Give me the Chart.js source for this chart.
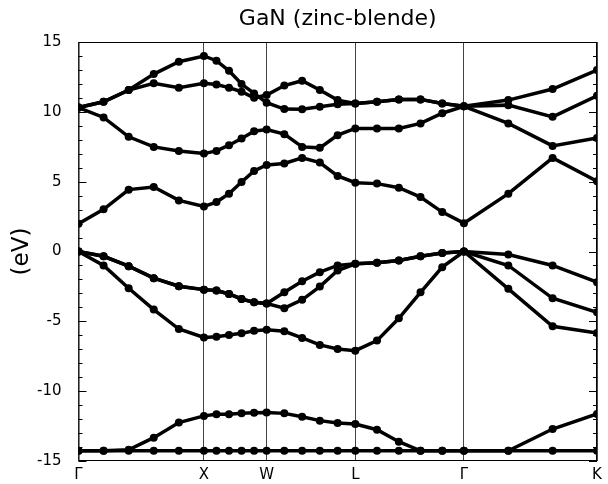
<!DOCTYPE html>
<html>
<head>
<meta charset="utf-8">
<script src="https://cdn.jsdelivr.net/npm/chart.js@4/dist/chart.umd.min.js"></script>
<style>
  html, body { margin: 0; padding: 0; background: #fff; }
  canvas { display: block; }
</style>
</head>
<body>
<canvas id="bands" width="608" height="484"></canvas>
<script>
// k-path positions (2pi/a units) and the symmetry points
const kPos = [0, 0.2, 0.4, 0.6, 0.8, 1.0, 1.1, 1.2, 1.3, 1.4, 1.5, 1.641, 1.783, 1.924, 2.066, 2.207, 2.380, 2.554, 2.727, 2.900, 3.073, 3.427, 3.780, 4.134];
const symPos = [0, 1.0, 1.5, 2.207, 3.073, 4.134];
const symLabels = ['Γ', 'X', 'W', 'L', 'Γ', 'K'];

// band energies (eV), one value per k-point
const bandD  = [-14.27, -14.27, -14.27, -14.27, -14.27, -14.27, -14.27, -14.27, -14.27, -14.27, -14.27, -14.27, -14.27, -14.27, -14.27, -14.27, -14.27, -14.27, -14.27, -14.27, -14.27, -14.27, -14.27, -14.27];
const bandS  = [-14.27, -14.27, -14.2, -13.33, -12.25, -11.77, -11.65, -11.65, -11.58, -11.54, -11.52, -11.59, -11.83, -12.11, -12.28, -12.35, -12.76, -13.62, -14.27, -14.27, -14.27, -14.27, -12.71, -11.63];
const bandV1 = [0, -1.0, -2.63, -4.16, -5.55, -6.15, -6.1, -5.98, -5.86, -5.67, -5.6, -5.71, -6.19, -6.69, -6.98, -7.1, -6.38, -4.78, -2.92, -1.12, 0, -2.67, -5.35, -5.83];
const bandV2 = [0, -0.34, -1.05, -1.91, -2.49, -2.73, -2.8, -3.04, -3.4, -3.64, -3.73, -4.06, -3.46, -2.51, -1.36, -0.88, -0.81, -0.65, -0.34, -0.1, 0, -1.0, -3.35, -4.35];
const bandV3 = [0, -0.34, -1.05, -1.91, -2.49, -2.73, -2.8, -3.04, -3.4, -3.64, -3.73, -2.92, -2.13, -1.48, -1.0, -0.88, -0.81, -0.65, -0.34, -0.1, 0, -0.22, -1.0, -2.2];
const bandC1 = [1.99, 3.02, 4.43, 4.62, 3.66, 3.23, 3.54, 4.14, 4.97, 5.77, 6.2, 6.3, 6.7, 6.37, 5.41, 4.93, 4.86, 4.57, 3.9, 2.82, 2.03, 4.14, 6.7, 5.03];
const bandC2 = [10.31, 9.6, 8.21, 7.49, 7.2, 7.01, 7.2, 7.61, 8.09, 8.61, 8.73, 8.4, 7.49, 7.42, 8.33, 8.81, 8.81, 8.81, 9.17, 9.9, 10.4, 9.17, 7.56, 8.13];
const bandC3 = [10.31, 10.72, 11.56, 12.7, 13.59, 14.0, 13.66, 12.94, 11.99, 11.32, 10.65, 10.2, 10.19, 10.36, 10.55, 10.6, 10.72, 10.89, 10.89, 10.59, 10.4, 10.48, 9.64, 11.15];
const bandC4 = [10.31, 10.72, 11.56, 12.04, 11.73, 12.04, 11.96, 11.73, 11.44, 11.0, 11.2, 11.88, 12.23, 11.56, 10.84, 10.6, 10.72, 10.89, 10.89, 10.59, 10.4, 10.84, 11.63, 12.99];

const yTicks = [-15, -10, -5, 0, 5, 10, 15];
const titleText = 'GaN (zinc-blende)';
const yLabel = '(eV)';

const allBands = [bandD, bandS, bandV1, bandV2, bandV3, bandC1, bandC2, bandC3, bandC4];

const datasets = allBands.map(function(band) {
    return {
        data: band.map((e, i) => ({ x: kPos[i], y: e })),
        borderColor: '#000',
        borderWidth: 3.5,
        pointRadius: 4,
        pointBackgroundColor: '#000',
        pointBorderWidth: 0,
        tension: 0
    };
});

// frame, inward y ticks, title over the plot area and the rotated y label
const framePlugin = {
    id: 'frame',
    afterDraw(chart) {
        const ctx = chart.ctx;
        const a = chart.chartArea;
        const y = chart.scales.y;
        ctx.save();
        ctx.strokeStyle = '#000';
        ctx.lineWidth = 1;
        ctx.strokeRect(a.left + 0.5, a.top + 0.5, a.right - a.left - 1, a.bottom - a.top - 1);
        ctx.beginPath();
        for (let v = -15; v <= 15; v++) {
            const py = Math.round(y.getPixelForValue(v)) + 0.5;
            const len = (v % 5 === 0) ? 8 : 4;
            ctx.moveTo(a.left, py);
            ctx.lineTo(a.left + len, py);
            ctx.moveTo(a.right, py);
            ctx.lineTo(a.right - len, py);
        }
        ctx.stroke();

        ctx.fillStyle = '#000';
        ctx.textAlign = 'center';
        ctx.textBaseline = 'middle';
        ctx.font = '22px "DejaVu Sans"';
        ctx.fillText(titleText, (a.left + a.right) / 2, 19);

        ctx.font = '23px "DejaVu Sans"';
        ctx.translate(22, y.getPixelForValue(0));
        ctx.rotate(-Math.PI / 2);
        ctx.fillText(yLabel, 0, 0);
        ctx.restore();
    }
};

const ctx = document.getElementById('bands').getContext('2d');
new Chart(ctx, {
    type: 'line',
    data: { datasets: datasets },
    options: {
        responsive: false,
        animation: false,
        layout: { padding: { left: 28, right: 11, top: 42, bottom: -5 } },
        plugins: {
            legend: { display: false },
            tooltip: { enabled: false },
            title: { display: false }
        },
        scales: {
            x: {
                type: 'linear',
                min: 0,
                max: 4.134,
                afterBuildTicks: function(axis) {
                    axis.ticks = symPos.map(v => ({ value: v }));
                },
                ticks: {
                    autoSkip: false,
                    maxRotation: 0,
                    color: '#000',
                    padding: 5,
                    font: { family: 'DejaVu Sans', size: 15 },
                    callback: function(value, index) { return symLabels[index]; }
                },
                grid: { color: '#444', lineWidth: 1, drawTicks: false, tickLength: 0 },
                border: { display: false }
            },
            y: {
                min: -15,
                max: 15,
                afterBuildTicks: function(axis) {
                    axis.ticks = yTicks.map(v => ({ value: v }));
                },
                ticks: {
                    color: '#000',
                    padding: 9,
                    font: { family: 'DejaVu Sans', size: 15 }
                },
                grid: { display: false },
                border: { display: false }
            }
        }
    },
    plugins: [framePlugin]
});
</script>
</body>
</html>
